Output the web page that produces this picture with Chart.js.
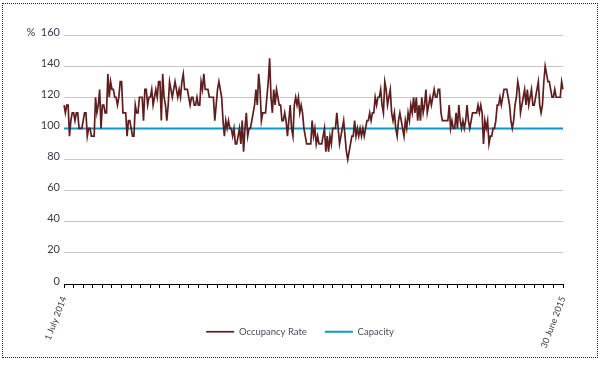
<!DOCTYPE html>
<html><head><meta charset="utf-8">
<script src="https://cdn.jsdelivr.net/npm/chart.js@4"></script>
<style>
html,body{margin:0;padding:0;background:#fff;}
#wrap{position:relative;width:601px;height:368px;}
#frame{position:absolute;left:2px;top:3px;width:596px;height:355px;border:1px dotted #222;box-sizing:border-box;pointer-events:none;}
canvas{position:absolute;left:0;top:0;}
</style></head><body>
<div id="wrap"><canvas id="c" width="601" height="368"></canvas><div id="frame"></div></div>
<script>
// Occupancy rate (%), daily from 1 July 2014 to 30 June 2015
const occupancyJulSep = [
115,110,115,115,95,105,110,110,105,110,
110,100,100,100,105,110,110,95,100,100,
95,95,95,120,110,115,125,100,115,115,
110,110,135,120,130,125,125,120,120,115,
120,130,130,110,110,110,95,105,105,100,
95,95,115,110,110,120,120,120,105,125,
125,115,120,120,125,115,120,125,120,130,
130,105,135,120,115,105,115,130,125,120,
125,130,125,120,125,120,130,135,125,125,
125,120];
const occupancyOctDec = [
115,120,120,115,115,120,115,115,130,125,
135,125,125,125,120,120,120,120,105,115,
125,130,125,120,105,95,105,100,105,100,
100,95,100,90,90,95,100,90,105,85,
100,110,95,100,100,105,110,115,125,115,
135,125,105,110,110,110,120,130,145,120,
110,125,115,125,120,115,115,105,105,110,
105,95,105,115,100,95,115,120,115,120,
110,115,110,100,95,90,90,90,90,105,
95,100];
const occupancyJanMar = [
90,95,90,90,90,95,100,85,95,85,
95,90,100,100,100,110,100,90,95,100,
105,95,85,80,85,90,95,95,105,95,
100,95,100,95,100,95,100,105,105,110,
105,110,110,120,115,120,120,125,115,110,
130,125,115,120,125,110,105,110,100,95,
105,110,105,100,95,105,100,110,105,115,
110,120,110,120,105,115,105,120,110,115,
125,110,115,120,115,120,125,120,120,125,
125,110];
const occupancyAprJun = [
105,105,105,105,105,115,100,105,100,100,
110,100,115,105,100,105,100,105,115,105,
100,105,110,110,110,110,115,110,115,110,
90,105,100,105,90,95,95,100,100,105,
115,115,120,115,120,125,125,125,120,115,
105,100,105,115,120,130,125,110,115,120,
125,115,125,115,120,125,115,115,120,125,
130,115,110,115,130,140,135,130,130,125,
120,120,125,120,120,120,120,130,125];
const capacityLevel = 100;
const seriesNames = ['Occupancy Rate', 'Capacity'];
const tickLabels = ['1 July 2014', '30 June 2015'];
const yTicks = [0, 20, 40, 60, 80, 100, 120, 140, 160];

const occupancy = [].concat(occupancyJulSep, occupancyOctDec, occupancyJanMar, occupancyAprJun);
const days = [];
const start = new Date(2014, 6, 1);
for (let i = 0; i < occupancy.length; i++) {
  const d = new Date(start.getFullYear(), start.getMonth(), start.getDate() + i);
  days.push(d.toDateString());
}
const capacity = days.map(() => capacityLevel);

const FONT = "'Lato', sans-serif";

const legendMover = {
  id: 'legendMover',
  afterLayout(chart) {
    const lg = chart.legend;
    lg.top = 309; lg.bottom = 345;
    lg.left = 0; lg.right = 600;
  }
};

new Chart(document.getElementById('c'), {
  type: 'line',
  data: {
    labels: days,
    datasets: [
      { label: seriesNames[0], data: occupancy, borderColor: '#5e1e1e', backgroundColor: '#5e1e1e',
        borderWidth: 1.7, pointRadius: 0, tension: 0, fill: false },
      { label: seriesNames[1], data: capacity, borderColor: '#0e97c8', backgroundColor: '#0e97c8',
        borderWidth: 2, pointRadius: 0, tension: 0, fill: false }
    ]
  },
  options: {
    responsive: false, animation: false, devicePixelRatio: 1,
    layout: { padding: { left: 4, right: 38, top: 35, bottom: 0 } },
    plugins: {
      tooltip: { enabled: false },
      legend: {
        position: 'bottom', maxHeight: 1,
        labels: {
          usePointStyle: true, pointStyle: 'line', pointStyleWidth: 28,
          padding: 18, color: '#4a4a5c',
          font: { family: FONT, size: 9.5 }
        }
      }
    },
    scales: {
      x: {
        type: 'category',
        afterFit(s) { s.height = 83; },
        grid: { display: true, drawOnChartArea: false, drawTicks: true, tickLength: 4, color: '#000' },
        border: { display: true, color: '#000', width: 1 },
        ticks: {
          autoSkip: false, minRotation: 69, maxRotation: 69, padding: 7,
          color: '#3a3a4a', font: { family: FONT, size: 9 },
          callback(value, index) {
            if (index === 0) return tickLabels[0];
            if (index === days.length - 1) return tickLabels[1];
            return index % 7 === 0 ? '' : null;
          }
        }
      },
      y: {
        min: yTicks[0], max: yTicks[yTicks.length - 1],
        afterFit(s) { s.width = 60; },
        afterBuildTicks(s) { s.ticks = yTicks.map(v => ({ value: v })); },
        grid: { color: '#c8c8c8', drawTicks: false, lineWidth: 1 },
        border: { display: false },
        ticks: {
          padding: 4, labelOffset: -3, color: '#3a3a4a', font: { family: FONT, size: 11 },
          callback(v) { return v === 160 ? '%  160' : String(v); }
        }
      }
    }
  },
  plugins: [legendMover]
});
</script>
</body></html>
